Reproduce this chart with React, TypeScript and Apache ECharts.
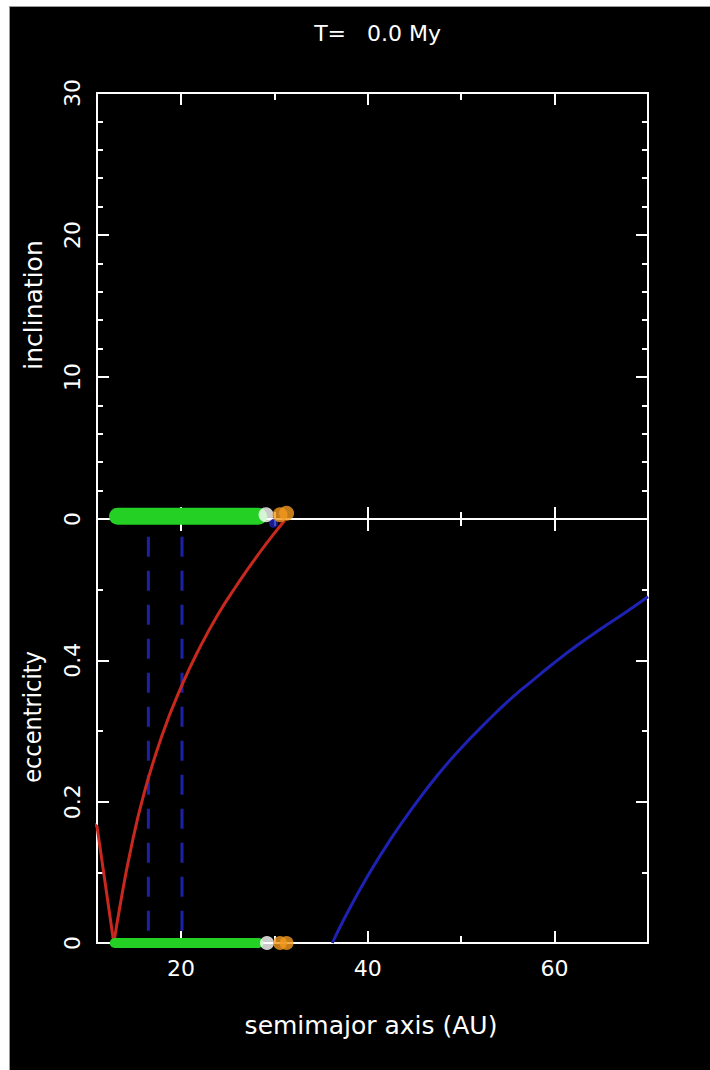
import React, { useEffect, useRef } from "react";
import * as echarts from "echarts";

// ---- chart data ----
const TIME_PREFIX = "T=";
const TIME_VALUE = "0.0 My";

// semimajor axis range (AU) and its ticks
const A_MIN = 11;
const A_MAX = 70;
const A_MAJOR_TICKS = [20, 40, 60];
const A_MINOR_TICKS = [30, 50];

// inclination (deg) and eccentricity ranges
const INC_MAX = 30;
const INC_STEP = 10;
const ECC_MAX = 0.6;
const ECC_STEP = 0.2;

// planetesimal disk: inner and outer edge (AU)
const DISK_INC: number[][] = [[13.2, 0.2], [28.3, 0.2]];
const DISK_ECC: number[][] = [[12.9, 0], [28.3, 0]];

// planets (a, i) and (a, e)
const PLANET_BLUE_INC: number[][] = [[29.9, -0.3]];
const PLANET_WHITE_INC: number[][] = [[29.1, 0.3]];
const PLANET_ORANGE_INC: number[][] = [[30.6, 0.3], [31.3, 0.4]];
const PLANET_WHITE_ECC: number[][] = [[29.2, 0]];
const PLANET_ORANGE_ECC: number[][] = [[30.6, 0], [31.3, 0]];

// red: orbits crossing 12.8 AU (aphelion branch, perihelion branch)
const RED_APHELION: number[][] = [[10.4, 0.172], [11.0, 0.165], [12.8, 0]];
const RED_PERIHELION: number[][] = [
  [12.8, 0], [13.5, 0.055], [14.5, 0.125], [16, 0.21], [18, 0.295], [20, 0.362],
  [22, 0.418], [24, 0.466], [26, 0.507], [28, 0.545], [30, 0.58], [31.1, 0.598],
];
// blue: orbits with perihelion at ~36 AU
const BLUE_PERIHELION: number[][] = [
  [36.2, 0], [37.5, 0.035], [40, 0.095], [42.5, 0.148], [45, 0.195], [47.5, 0.238],
  [50, 0.276], [52.5, 0.31], [55, 0.342], [57.5, 0.37], [60, 0.397], [62.5, 0.422],
  [65, 0.445], [67.5, 0.467], [70, 0.49],
];
// dashed resonance locations (AU) and their height in eccentricity
const RESONANCE_A = [16.5, 20.1];
const RESONANCE_E_TOP = 0.575;

// ---- styling ----
const FONT = "DejaVu Sans";
const WHITE = "#ffffff";
const GREEN = "#25d025";
const RED = "#c8281e";
const BLUE = "#1e22b4";
const DASH_BLUE = "#1c22a6";
const ORANGE = "#f39a1e";

const GRID_LEFT = 87;
const GRID_WIDTH = 551;

function xAxis(gridIndex: number, position: string, ticks: number[], len: number, line: boolean, label: boolean) {
  return {
    type: "value",
    gridIndex,
    position,
    min: A_MIN,
    max: A_MAX,
    axisLine: { show: line, onZero: false, lineStyle: { color: WHITE, width: 2 } },
    axisTick: { show: true, inside: true, length: len, customValues: ticks, lineStyle: { color: WHITE, width: 2 } },
    axisLabel: {
      show: label,
      customValues: ticks,
      color: WHITE,
      fontSize: 22,
      fontFamily: FONT,
      margin: 14,
    },
    splitLine: { show: false },
  };
}

function yAxis(gridIndex: number, position: string, max: number, step: number, minorSplit: number, label: boolean) {
  return {
    type: "value",
    gridIndex,
    position,
    min: 0,
    max,
    interval: step,
    axisLine: { show: true, onZero: false, lineStyle: { color: WHITE, width: 2 } },
    axisTick: { show: true, inside: true, length: 12, lineStyle: { color: WHITE, width: 2 } },
    minorTick: { show: true, splitNumber: minorSplit, length: 6, lineStyle: { color: WHITE, width: 2 } },
    axisLabel: {
      show: label,
      rotate: 90,
      color: WHITE,
      fontSize: 22,
      fontFamily: FONT,
      margin: 14,
      showMinLabel: true,
      showMaxLabel: true,
      formatter: (v: number) => {
        if (max < 1 && v > max - 1e-6) return "";
        return String(Math.round(v * 10) / 10);
      },
    },
    splitLine: { show: false },
    minorSplitLine: { show: false },
  };
}

function band(data: number[][], x: number, y: number, width: number, z: number) {
  return {
    type: "line",
    xAxisIndex: x,
    yAxisIndex: y,
    data,
    symbol: "none",
    clip: false,
    z,
    lineStyle: { color: GREEN, width, cap: "round" },
  };
}

function dots(data: number[][], x: number, y: number, color: string, size: number, z: number) {
  return {
    type: "scatter",
    xAxisIndex: x,
    yAxisIndex: y,
    data,
    symbol: "circle",
    symbolSize: size,
    clip: false,
    z,
    itemStyle: { color },
  };
}

function curve(data: number[][], color: string, smooth: boolean, dashed?: number[]) {
  return {
    type: "line",
    xAxisIndex: 4,
    yAxisIndex: 2,
    data,
    symbol: "none",
    smooth,
    clip: false,
    z: 3,
    lineStyle: { color, width: 3, type: dashed ?? "solid" },
  };
}

export default function App() {
  const ref = useRef<HTMLDivElement>(null);

  useEffect(() => {
    if (!ref.current) return;
    const chart = echarts.init(ref.current, null, { renderer: "svg" });

    const option = {
      animation: false,
      backgroundColor: "#000000",
      grid: [
        { left: GRID_LEFT, top: 86, width: GRID_WIDTH, height: 426 },
        { left: GRID_LEFT, top: 512, width: GRID_WIDTH, height: 424 },
      ],
      xAxis: [
        // top panel: bottom edge, top edge
        xAxis(0, "bottom", A_MAJOR_TICKS, 12, true, false),
        xAxis(0, "bottom", A_MINOR_TICKS, 7, false, false),
        xAxis(0, "top", A_MAJOR_TICKS, 12, true, false),
        xAxis(0, "top", A_MINOR_TICKS, 7, false, false),
        // bottom panel: bottom edge (labelled), top edge
        xAxis(1, "bottom", A_MAJOR_TICKS, 12, true, true),
        xAxis(1, "bottom", A_MINOR_TICKS, 7, false, false),
        xAxis(1, "top", A_MAJOR_TICKS, 12, true, false),
        xAxis(1, "top", A_MINOR_TICKS, 7, false, false),
      ],
      yAxis: [
        yAxis(0, "left", INC_MAX, INC_STEP, 5, true),
        yAxis(0, "right", INC_MAX, INC_STEP, 5, false),
        yAxis(1, "left", ECC_MAX, ECC_STEP, 2, true),
        yAxis(1, "right", ECC_MAX, ECC_STEP, 2, false),
      ],
      graphic: [
        {
          type: "text",
          x: 336,
          y: 26,
          style: { text: TIME_PREFIX, fill: WHITE, font: `22px "${FONT}"`, align: "right", verticalAlign: "middle" },
        },
        {
          type: "text",
          x: 357,
          y: 26,
          style: { text: TIME_VALUE, fill: WHITE, font: `22px "${FONT}"`, align: "left", verticalAlign: "middle" },
        },
        {
          type: "text",
          x: 23,
          y: 298,
          rotation: Math.PI / 2,
          style: { text: "inclination", fill: WHITE, font: `25px "${FONT}"`, align: "center", verticalAlign: "middle" },
        },
        {
          type: "text",
          x: 23,
          y: 710,
          rotation: Math.PI / 2,
          scaleX: 0.9,
          style: { text: "eccentricity", fill: WHITE, font: `25px "${FONT}"`, align: "center", verticalAlign: "middle" },
        },
        {
          type: "text",
          x: 361,
          y: 1018,
          style: { text: "semimajor axis (AU)", fill: WHITE, font: `25px "${FONT}"`, align: "center", verticalAlign: "middle" },
        },
      ],
      series: [
        // top panel: inclination vs semimajor axis
        band(DISK_INC, 0, 0, 17, 4),
        dots(PLANET_BLUE_INC, 0, 0, BLUE, 9, 5),
        dots(PLANET_WHITE_INC, 0, 0, WHITE, 15, 6),
        dots(PLANET_ORANGE_INC, 0, 0, ORANGE, 15, 7),
        // bottom panel: eccentricity vs semimajor axis
        ...RESONANCE_A.map((a) => curve([[a, RESONANCE_E_TOP], [a, 0]], DASH_BLUE, false, [20, 14])),
        curve(RED_APHELION, RED, false),
        curve(RED_PERIHELION, RED, true),
        curve(BLUE_PERIHELION, BLUE, true),
        band(DISK_ECC, 4, 2, 10, 4),
        dots(PLANET_WHITE_ECC, 4, 2, WHITE, 14, 6),
        dots(PLANET_ORANGE_ECC, 4, 2, ORANGE, 14, 7),
      ],
    };

    chart.setOption(option as any);
    return () => chart.dispose();
  }, []);

  return (
    <div
      style={{
        position: "fixed",
        left: 9,
        top: 6,
        right: 0,
        bottom: 0,
        background: "#000000",
        borderLeft: "1px solid #9a9a9a",
        borderTop: "1px solid #9a9a9a",
      }}
    >
      <div ref={ref} style={{ width: 700, height: 1063 }} />
    </div>
  );
}
